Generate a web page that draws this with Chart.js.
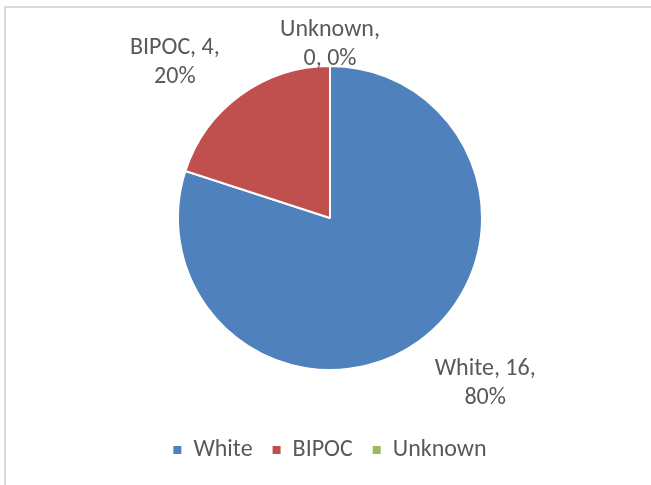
<!DOCTYPE html>
<html>
<head>
<meta charset="utf-8">
<script src="https://cdn.jsdelivr.net/npm/chart.js@4/dist/chart.umd.min.js"></script>
<style>
  html, body { margin: 0; padding: 0; background: #fff; overflow: hidden; }
  #wrap { position: relative; width: 651px; height: 485px; }
  #frame { position: absolute; left: 4px; top: 6px; width: 700px; height: 600px; border: 2px solid #d9d9d9; box-sizing: border-box; }
  canvas { position: absolute; left: 0; top: 0; }
</style>
</head>
<body>
<div id="wrap">
  <div id="frame"></div>
  <canvas id="pie" width="651" height="485"></canvas>
</div>
<script>
const categories = ['White', 'BIPOC', 'Unknown'];
const counts = [16, 4, 0];
const sliceColors = ['#4F81BD', '#C0504D', '#9BBB59'];

const FONT = 'Carlito, Calibri, Lato, sans-serif';
const TEXT = '#595959';

// wrap words like excel does in a narrow label box
function wrapText(ctx, text, maxW) {
    const words = text.split(' ');
    const lines = [];
    let cur = '';
    words.forEach(w => {
        const t = cur ? cur + ' ' + w : w;
        if (cur && ctx.measureText(t).width > maxW) {
            lines.push(cur);
            cur = w;
        } else cur = t;
    });
    if (cur) lines.push(cur);
    return lines;
}

// excel-style outside labels: "Name, value, pct%"
const outsideLabels = {
    id: 'outsideLabels',
    afterDatasetsDraw(chart) {
        const ctx = chart.ctx;
        const meta = chart.getDatasetMeta(0);
        const total = counts.reduce((a, b) => a + b, 0);
        ctx.save();
        ctx.font = '24px ' + FONT;
        ctx.fillStyle = TEXT;
        ctx.textAlign = 'center';
        ctx.textBaseline = 'middle';
        const lh = 29;
        meta.data.forEach((arc, i) => {
            const p = arc.getProps(['x', 'y', 'startAngle', 'endAngle', 'outerRadius'], true);
            const mid = (p.startAngle + p.endAngle) / 2;
            const c = Math.cos(mid), s = Math.sin(mid);
            const ex = p.x + c * p.outerRadius;
            const ey = p.y + s * p.outerRadius;
            const text = categories[i] + ', ' + counts[i] + ', ' + Math.round(counts[i] / total * 100) + '%';
            const lines = wrapText(ctx, text, 110);
            const h = lines.length * lh;
            let cx, cy;
            if (Math.abs(c) < 0.3) {
                cx = ex;
                cy = ey + (s < 0 ? -h / 2 + 7 : h / 2);
            } else {
                cx = ex + c * 112;
                cy = ey + s * 46 + 5;
            }
            lines.forEach((l, k) => ctx.fillText(l, cx, cy - h / 2 + lh / 2 + k * lh));
        });
        ctx.restore();
    }
};

const defaultLabels = Chart.overrides.pie.plugins.legend.labels.generateLabels;

new Chart(document.getElementById('pie'), {
    type: 'pie',
    data: {
        labels: categories,
        datasets: [{
            data: counts,
            backgroundColor: sliceColors,
            borderColor: '#ffffff',
            borderWidth: 2,
            radius: 152
        }]
    },
    options: {
        responsive: false,
        animation: false,
        layout: { padding: { top: 18, bottom: 13, left: 9, right: 0 } },
        plugins: {
            legend: {
                position: 'bottom',
                labels: {
                    boxWidth: 8,
                    boxHeight: 8,
                    padding: 20,
                    color: TEXT,
                    font: { family: FONT, size: 24 },
                    generateLabels: chart => defaultLabels(chart).map(l => ({ ...l, lineWidth: 0, strokeStyle: l.fillStyle }))
                }
            },
            tooltip: { enabled: false }
        }
    },
    plugins: [outsideLabels]
});
</script>
</body>
</html>
